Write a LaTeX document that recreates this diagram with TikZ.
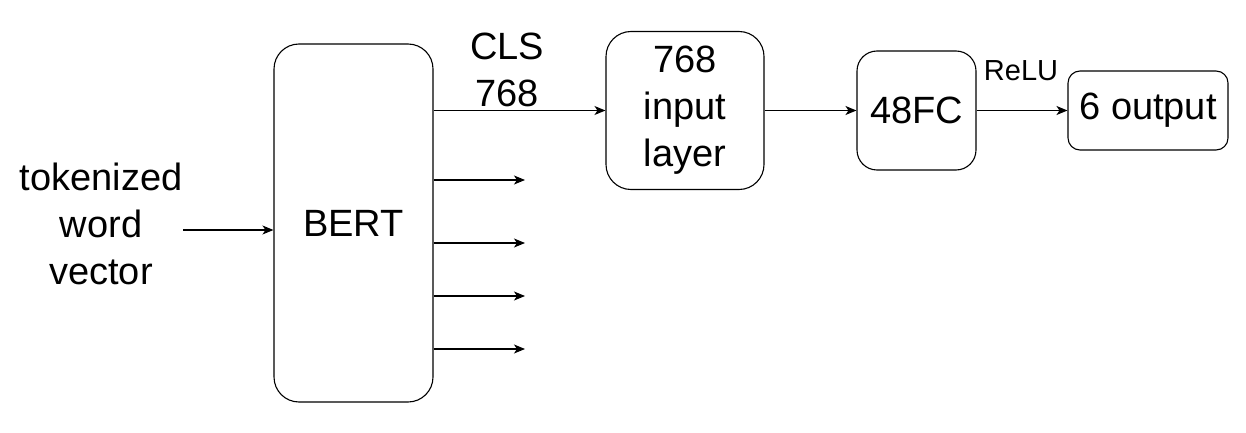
\documentclass[tikz,border=0pt]{standalone}
\usepackage{fontspec}
\setmainfont{Liberation Sans}
\usetikzlibrary{arrows.meta}
\begin{document}
\begin{tikzpicture}[x=1pt,y=-1pt,
  box/.style={draw, line width=1.1pt, rounded corners=25pt, inner sep=0pt, align=center,
     font=\fontsize{38}{47}\selectfont},
  lbl/.style={inner sep=0pt, align=center, font=\fontsize{38}{47}\selectfont},
  arr/.style={line width=1.1pt, -{Stealth[length=11pt,width=9pt,inset=3pt]}}]
\useasboundingbox (0,0) rectangle (1246,433);
\node[box, minimum width=159pt, minimum height=358pt] (bert) at (353.5,223) {BERT};
\node[box, minimum width=158pt, minimum height=158pt] (inp) at (685,110.5) {768\\input\\layer};
\node[box, minimum width=119pt, minimum height=119pt, rounded corners=20pt] (fc) at (916.5,110.5) {48FC};
\node[box, minimum width=160pt, minimum height=79pt, rounded corners=12pt] (out) at (1148,110.5) {6 output};
\node[lbl] (tok) at (101,224) {tokenized\\word\\vector};
\node[lbl] (cls) at (507,70) {CLS\\768};
\node[inner sep=0pt, font=\fontsize{29}{34}\selectfont] (relu) at (1021,71) {ReLU};
\coordinate (tokend) at (183,230);
\draw[arr] (tokend) -- (tokend -| bert.west);
\draw[arr] (bert.east |- inp.west) -- (inp.west);
\draw[arr] (inp.east) -- (fc.west);
\draw[arr] (fc.east) -- (out.west);
\coordinate (o1) at (525,180);
\coordinate (o2) at (525,243);
\coordinate (o3) at (525,296);
\coordinate (o4) at (525,349);
\foreach \o in {o1,o2,o3,o4} \draw[arr] (bert.east |- \o) -- (\o);
\end{tikzpicture}
\end{document}
